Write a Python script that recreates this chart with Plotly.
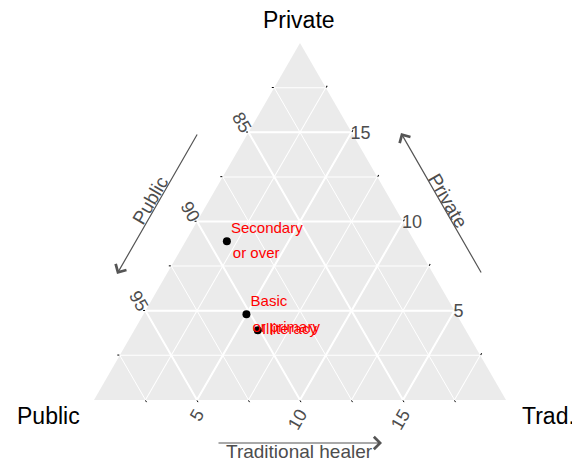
import plotly.graph_objects as go

# ---- data ----
groups = ["Secondary\nor over", "Basic\nor primary", "Illiteracy"]
private = [8.9, 4.8, 3.9]
trad = [2.0, 5.0, 6.0]
public = [round(100 - p - t, 2) for p, t in zip(private, trad)]

public_ticks = [85, 90, 95]
private_ticks = [5, 10, 15]
trad_ticks = [5, 10, 15]
minor_step = 2.5
private_min, public_min, trad_min = 0, 80, 0

span = 100 - (private_min + public_min + trad_min)

def steps(lo, hi, step):
    vals, v = [], lo + step
    while v < hi - 1e-9:
        vals.append(round(v, 4))
        v += step
    return vals

# Plotly puts a-axis (Private) ticks on the left edge, b-axis (Public) on the
# bottom edge and c-axis (Trad) on the right edge. The reference labels the
# left edge with Public, the bottom with Trad, the right edge with Private.
a_major = [100 - trad_min - v for v in public_ticks]
a_text = [str(v) for v in public_ticks]
b_major = [100 - private_min - v for v in trad_ticks]
b_text = [str(v) for v in trad_ticks]
c_major = [100 - public_min - v for v in private_ticks]
c_text = [str(v) for v in private_ticks]

FONT = "Liberation Sans, Arial, sans-serif"
TICKCOL = "#4D4D4D"
W, H = 572, 461
x0, x1 = 94, 506
ytop, ybot = 43, 400
domain = dict(x=[x0 / W, x1 / W], y=[(H - ybot) / H, (H - ytop) / H])

first = [g.split("\n")[0] for g in groups]
second = [g.split("\n")[1] if "\n" in g else "" for g in groups]
pos1 = ["top right" if "\n" in g else "middle right" for g in groups]

fig = go.Figure()
# invisible trace so that the base (minor-grid) ternary is drawn
fig.add_trace(go.Scatterternary(
    a=private, b=public, c=trad, subplot="ternary",
    mode="markers", marker=dict(opacity=0, size=1),
    hoverinfo="skip", showlegend=False,
))
# points
fig.add_trace(go.Scatterternary(
    a=private, b=public, c=trad, subplot="ternary2",
    mode="markers", marker=dict(color="black", size=8),
    hoverinfo="skip", showlegend=False,
))
# label lines (invisible markers only set the text offset)
fig.add_trace(go.Scatterternary(
    a=private, b=public, c=trad, subplot="ternary2",
    mode="markers+text", marker=dict(size=5, opacity=0),
    text=first, textposition=pos1,
    textfont=dict(color="red", size=15, family=FONT),
    hoverinfo="skip", showlegend=False,
))
fig.add_trace(go.Scatterternary(
    a=private, b=public, c=trad, subplot="ternary2",
    mode="markers+text", marker=dict(size=8, opacity=0),
    text=second, textposition="bottom right",
    textfont=dict(color="red", size=15, family=FONT),
    hoverinfo="skip", showlegend=False,
))

def minor_axis(mn):
    return dict(
        title=dict(text=""), min=mn,
        tickmode="array", tickvals=steps(mn, mn + span, minor_step),
        ticks="outside", ticklen=2, tickcolor="black", tickwidth=1,
        showticklabels=False,
        showgrid=True, gridcolor="white", gridwidth=0.7, showline=False,
    )

def major_axis(mn, vals, texts, angle):
    return dict(
        title=dict(text=""), min=mn,
        tickmode="array", tickvals=vals, ticktext=texts,
        ticks="",
        tickfont=dict(size=18, color=TICKCOL, family=FONT), tickangle=angle,
        showgrid=True, gridcolor="white", gridwidth=1.8, showline=False,
    )

fig.update_layout(
    width=W, height=H,
    margin=dict(l=0, r=0, t=0, b=0),
    paper_bgcolor="white",
    font=dict(family=FONT),
    ternary=dict(
        sum=100, bgcolor="#EBEBEB", domain=domain,
        aaxis=minor_axis(private_min),
        baxis=minor_axis(public_min),
        caxis=minor_axis(trad_min),
    ),
    ternary2=dict(
        sum=100, bgcolor="rgba(0,0,0,0)", domain=domain,
        aaxis=major_axis(private_min, a_major, a_text, 60),
        baxis=major_axis(public_min, b_major, b_text, -60),
        caxis=major_axis(trad_min, c_major, c_text, 0),
    ),
)

def title(txt, xy, anchor):
    fig.add_annotation(
        xref="paper", yref="paper", x=xy[0] / W, y=1 - xy[1] / H,
        text=txt, showarrow=False, xanchor=anchor, yanchor="middle",
        font=dict(size=23, color="black", family=FONT),
    )

title("Private", (299, 20), "center")
title("Public", (48, 416), "center")
title("Trad.", (520, 416), "left")

ARROW = "#555555"
def arrow(tail, head):
    fig.add_annotation(
        xref="paper", yref="paper", x=head[0] / W, y=1 - head[1] / H,
        ax=tail[0] - head[0], ay=tail[1] - head[1],
        text="", showarrow=True, arrowhead=4, arrowsize=2.0, arrowwidth=1.2,
        arrowcolor=ARROW,
    )

def label(txt, xy, angle):
    fig.add_annotation(
        xref="paper", yref="paper", x=xy[0] / W, y=1 - xy[1] / H,
        text=txt, showarrow=False, textangle=angle,
        font=dict(size=19, color=TICKCOL, family=FONT),
        xanchor="center", yanchor="middle",
    )

arrow((198, 133), (117, 274))
label("Public", (150, 200), -60)
arrow((482, 274), (401, 133))
label("Private", (448, 200), 60)
arrow((217, 443), (382, 443))
label("Traditional healer", (299, 451), 0)

fig.write_html("out.html", config={"displayModeBar": False},
               post_script="document.body.style.margin='0px';")
